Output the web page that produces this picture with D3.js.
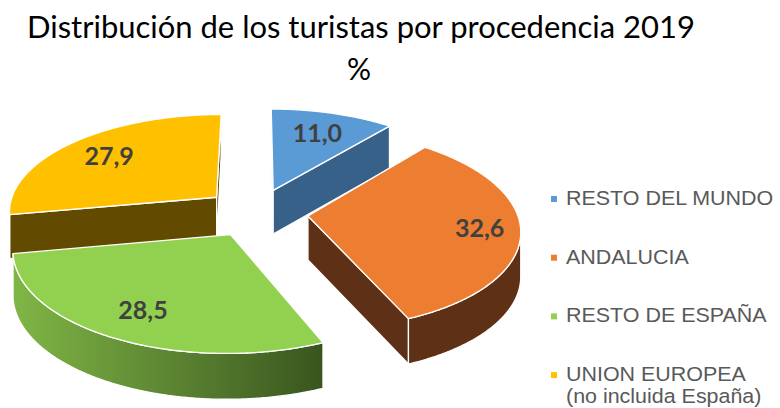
<!DOCTYPE html>
<html>
<head>
<meta charset="utf-8">
<script src="https://cdn.jsdelivr.net/npm/d3@7"></script>
<style>
  body { margin: 0; background: #fff; }
  svg { display: block; }
</style>
</head>
<body>
<div id="chart"></div>
<script>
// Data
const categories = ["RESTO DEL MUNDO", "ANDALUCIA", "RESTO DE ESPAÑA", "UNION EUROPEA"];
const legendLines = [["RESTO DEL MUNDO"], ["ANDALUCIA"], ["RESTO DE ESPAÑA"], ["UNION EUROPEA", "(no incluida España)"]];
const values = [11.0, 32.6, 28.5, 27.9];
const valueLabels = ["11,0", "32,6", "28,5", "27,9"];

// Styles
const topColors = ["#5B9BD5", "#ED7D31", "#92D050", "#FFC000"];
const sideColors = ["#386189", "#5E3116", "#4E7A2A", "#624A00"];
const wallGradients = [null, null, ["#80B646", "#39551F"], null];
const labelRadius = [0.72, 0.81, 0.76, 0.74];

const width = 780, height = 408;

// fake 3D camera for the tilted pie
const cam = {cx: 256, cy: 212.5, focal: 209, persp: 0.13, tilt: 0.465, depth: 44, explode: 0.25};

function project(X, Z, h) {
    const den = 1 + cam.persp * Z;
    return [cam.cx + cam.focal * X / den,
            cam.cy - cam.focal * cam.tilt * Z / den + h * (cam.depth - 1.5 * Z)];
}

function signedArea(pts) {
    let a = 0;
    for (let i = 0; i < pts.length; i++) {
        const p = pts[i], q = pts[(i + 1) % pts.length];
        a += p[0] * q[1] - q[0] * p[1];
    }
    return a / 2;
}

const svg = d3.select("#chart").append("svg")
    .attr("width", width)
    .attr("height", height);
const defs = svg.append("defs");

// Title
svg.append("text")
    .attr("x", 361)
    .attr("y", 38)
    .attr("text-anchor", "middle")
    .attr("textLength", 668)
    .attr("lengthAdjust", "spacingAndGlyphs")
    .style("font-family", "Lato, 'Open Sans', sans-serif")
    .style("font-size", "30px")
    .style("fill", "#000")
    .text("Distribución de los turistas por procedencia 2019");
svg.append("text")
    .attr("x", 359)
    .attr("y", 80)
    .attr("text-anchor", "middle")
    .style("font-family", "Lato, 'Open Sans', sans-serif")
    .style("font-size", "30px")
    .style("fill", "#000")
    .text("%");

const pie = d3.pie().sort(null).value(d => d.value);
const arcs = pie(values.map((v, i) => ({value: v, i: i})));

const line = d3.line();
const step = Math.PI / 360;

const slices = arcs.map(a => {
    const mid = (a.startAngle + a.endAngle) / 2;
    const ox = cam.explode * Math.sin(mid), oz = cam.explode * Math.cos(mid);
    const pt = (t, r, h) => project(ox + r * Math.sin(t), oz + r * Math.cos(t), h);
    return {i: a.data.i, a0: a.startAngle, a1: a.endAngle, mid: mid, oz: oz, pt: pt};
});

// back to front
slices.sort((a, b) => b.oz - a.oz);

const pieG = svg.append("g");

slices.forEach(s => {
    const g = pieG.append("g");
    const n = Math.ceil((s.a1 - s.a0) / step);
    const angles = d3.range(n + 1).map(k => s.a0 + (s.a1 - s.a0) * k / n);

    // radial faces
    const startFace = [s.pt(0, 0, 0), s.pt(s.a0, 1, 0), s.pt(s.a0, 1, 1), s.pt(0, 0, 1)];
    const endFace = [s.pt(0, 0, 0), s.pt(s.a1, 1, 0), s.pt(s.a1, 1, 1), s.pt(0, 0, 1)];
    [[startFace, signedArea(startFace) < 0], [endFace, signedArea(endFace) > 0]].forEach(([f, vis]) => {
        if (!vis) return;
        g.append("path")
            .attr("d", line(f) + "Z")
            .attr("fill", sideColors[s.i])
            .attr("stroke", "#fff")
            .attr("stroke-width", 1.3)
            .attr("stroke-linejoin", "round");
    });

    // outer wall, only the visible runs
    const runs = [];
    let cur = null;
    for (let k = 0; k < n; k++) {
        const ta = angles[k], tb = angles[k + 1];
        const quad = [s.pt(ta, 1, 0), s.pt(tb, 1, 0), s.pt(tb, 1, 1), s.pt(ta, 1, 1)];
        if (signedArea(quad) < 0) {
            if (!cur) { cur = [ta]; runs.push(cur); }
            cur.push(tb);
        } else {
            cur = null;
        }
    }
    runs.forEach((run, ri) => {
        const topPts = run.map(t => s.pt(t, 1, 0));
        const botPts = run.map(t => s.pt(t, 1, 1)).reverse();
        const pts = topPts.concat(botPts);
        let fill = sideColors[s.i];
        if (wallGradients[s.i]) {
            const xs = pts.map(p => p[0]);
            const id = "wall-" + s.i + "-" + ri;
            const grad = defs.append("linearGradient")
                .attr("id", id)
                .attr("gradientUnits", "userSpaceOnUse")
                .attr("x1", d3.min(xs)).attr("x2", d3.max(xs))
                .attr("y1", 0).attr("y2", 0);
            grad.append("stop").attr("offset", "0%").attr("stop-color", wallGradients[s.i][0]);
            grad.append("stop").attr("offset", "100%").attr("stop-color", wallGradients[s.i][1]);
            fill = "url(#" + id + ")";
        }
        g.append("path")
            .attr("d", line(pts) + "Z")
            .attr("fill", fill)
            .attr("stroke", "#fff")
            .attr("stroke-width", 1.3)
            .attr("stroke-linejoin", "round");
    });

    // top face
    const top = [s.pt(0, 0, 0)].concat(angles.map(t => s.pt(t, 1, 0)));
    g.append("path")
        .attr("d", line(top) + "Z")
        .attr("fill", topColors[s.i])
        .attr("stroke", "#fff")
        .attr("stroke-width", 1.3)
        .attr("stroke-linejoin", "round");

    // value label
    const lp = s.pt(s.mid, labelRadius[s.i], 0);
    g.append("text")
        .attr("x", lp[0])
        .attr("y", lp[1])
        .attr("dy", "0.36em")
        .attr("text-anchor", "middle")
        .style("font-family", "Lato, 'Open Sans', sans-serif")
        .style("font-weight", "bold")
        .style("font-size", "25px")
        .style("fill", "#404040")
        .text(valueLabels[s.i]);
});

// Legend
const legendY = d3.scaleLinear().domain([0, 1]).range([205, 263.7]);
const legend = svg.append("g");
categories.forEach((c, i) => {
    const y = legendY(i);
    legend.append("rect")
        .attr("x", 551)
        .attr("y", y - 9)
        .attr("width", 6)
        .attr("height", 6)
        .attr("fill", topColors[i]);
    legendLines[i].forEach((txt, j) => {
        legend.append("text")
            .attr("transform", `translate(566, ${y + j * 22}) scale(1.1, 1)`)
            .style("font-family", "'Liberation Sans', Arial, sans-serif")
            .style("font-size", "19.5px")
            .style("fill", "#595959")
            .text(txt);
    });
});
</script>
</body>
</html>
